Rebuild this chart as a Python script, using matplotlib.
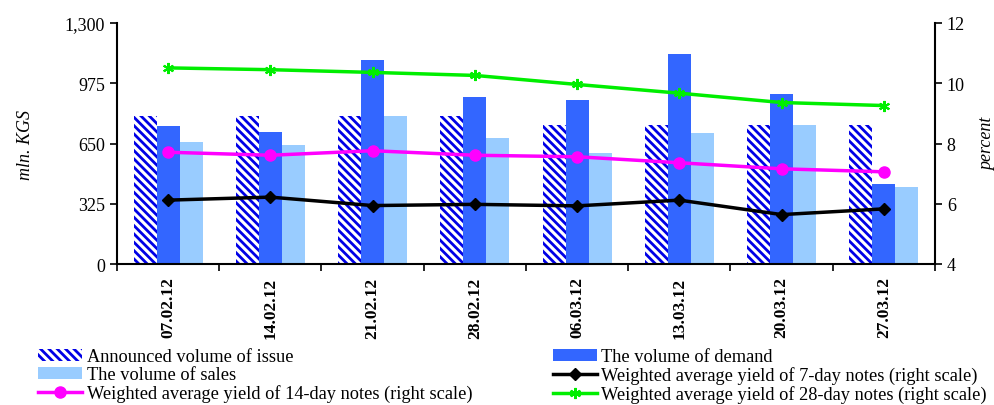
import matplotlib
matplotlib.use("Agg")
import matplotlib.pyplot as plt
import numpy as np

plt.rcParams['font.family'] = ['Liberation Serif', 'DejaVu Serif']
plt.rcParams['hatch.linewidth'] = 2.0

dates = ["07.02.12", "14.02.12", "21.02.12", "28.02.12",
         "06.03.12", "13.03.12", "20.03.12", "27.03.12"]
announced = [800, 800, 800, 800, 750, 750, 750, 750]
demand = [745, 712, 1100, 901, 886, 1133, 917, 431]
sales = [658, 642, 800, 680, 599, 707, 750, 415]
yield_7 = [6.12, 6.22, 5.94, 5.98, 5.93, 6.12, 5.64, 5.83]
yield_14 = [7.71, 7.61, 7.76, 7.61, 7.56, 7.36, 7.16, 7.06]
yield_28 = [10.51, 10.45, 10.36, 10.26, 9.96, 9.67, 9.36, 9.26]

x = np.arange(len(dates))
w = 0.225

fig = plt.figure(figsize=(9.95, 4.06), dpi=100)
ax = fig.add_axes([117/995, 1 - 265/406, 818/995, 241/406])

b1 = ax.bar(x - w, announced, w, facecolor='white', edgecolor='#0000e6',
            hatch='\\\\\\\\', linewidth=0, label='Announced volume of issue')
b2 = ax.bar(x, demand, w, color='#3366ff', label='The volume of demand')
b3 = ax.bar(x + w, sales, w, color='#99ccff', label='The volume of sales')

ax.set_xlim(-0.5, len(dates) - 0.5)
ax.set_ylim(0, 1300)
ax.set_yticks([0, 325, 650, 975, 1300])
ax.set_yticklabels(['0', '325', '650', '975', '1,300'], fontsize=13)
ax.set_xticks(x)
ax.set_xticklabels(dates, rotation=90, fontsize=12.5, fontweight='bold')
ax.set_xticks(np.arange(len(dates) + 1) - 0.5, minor=True)
ax.tick_params(axis='x', which='major', length=0, pad=9)
ax.tick_params(axis='x', which='minor', length=5, direction='out', width=1.2)
ax.tick_params(axis='y', length=5, width=1.2, direction='out')
ax.set_ylabel('mln. KGS', fontsize=13, style='italic', labelpad=22)
for s in ['top', 'right']:
    ax.spines[s].set_visible(False)
for s in ['left', 'bottom']:
    ax.spines[s].set_linewidth(1.5)

ax2 = ax.twinx()
l1, = ax2.plot(x, yield_7, color='black', marker='D', markersize=6, lw=2.5,
               label='Weighted average yield of 7-day notes (right scale)')
l2, = ax2.plot(x, yield_14, color='#ff00ff', marker='o', markersize=8, lw=2.5,
               label='Weighted average yield of 14-day notes (right scale)')
l3, = ax2.plot(x, yield_28, color='#00ee00', marker=(6, 2, 0), markersize=8, mew=1.5, lw=2.5,
               label='Weighted average yield of 28-day notes (right scale)')
ax2.set_ylim(4, 12)
ax2.set_yticks([4, 6, 8, 10, 12])
ax2.tick_params(axis='y', labelsize=13, length=5, width=1.2, direction='out')
ax2.set_ylabel('percent', fontsize=13, style='italic', labelpad=10)
for s in ['top', 'left', 'bottom']:
    ax2.spines[s].set_visible(False)
ax2.spines['right'].set_linewidth(1.5)

handles = [b1, b3, l2, b2, l1, l3]
fig.legend(handles=handles, labels=[h.get_label() for h in handles],
           ncol=2, loc='lower left', bbox_to_anchor=(38/995, 2/406),
           frameon=False, fontsize=13.2, handlelength=2.4, handleheight=0.6,
           handletextpad=0.25, labelspacing=0.05, columnspacing=4.4,
           borderpad=0, borderaxespad=0)

fig.savefig('out.png', dpi=100)
